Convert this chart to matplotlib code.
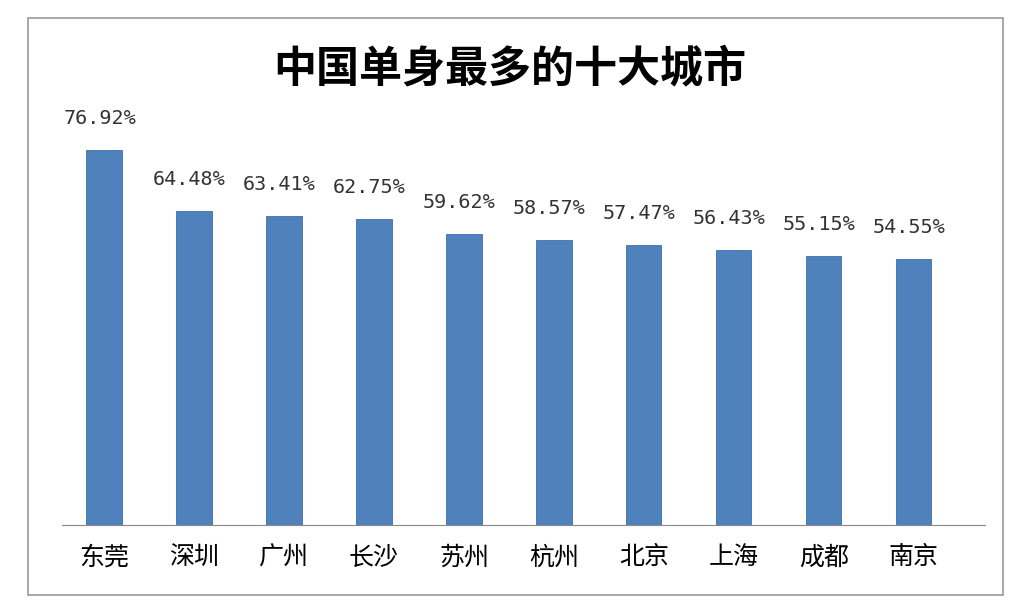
import matplotlib
matplotlib.use("Agg")
import matplotlib.pyplot as plt
from matplotlib.patches import Rectangle

plt.rcParams['font.family'] = ['Noto Sans CJK SC', 'DejaVu Sans']

cities = ["东莞", "深圳", "广州", "长沙", "苏州", "杭州", "北京", "上海", "成都", "南京"]
values = [76.92, 64.48, 63.41, 62.75, 59.62, 58.57, 57.47, 56.43, 55.15, 54.55]
title = "中国单身最多的十大城市"

fig = plt.figure(figsize=(10.2, 6.1), dpi=100)
fig.patches.append(Rectangle((28/1020, 15/610), 975/1020, 577/610, transform=fig.transFigure,
                             fill=False, edgecolor="#999999", linewidth=1.2))
ax = fig.add_axes([62/1020, 85/610, 923/1020, 465/610])
x = list(range(len(cities)))
ax.bar(x, values, width=0.39, color="#4F81BD", edgecolor="#3E6FA8", linewidth=0.6)
for xi, v in zip(x, values):
    ax.text(xi - 0.05, v + 4.5, f"{v:.2f}%", ha="center", va="bottom",
            fontsize=14.5, family=["DejaVu Sans Mono"], color="#333333")
ax.set_xlim(-0.467, 9.79)
ax.set_ylim(0, 95.4)
ax.set_yticks([])
ax.set_xticks(x)
ax.set_xticklabels(cities, fontsize=18)
ax.tick_params(axis="x", length=0, pad=14)
for s in ["top", "right", "left"]:
    ax.spines[s].set_visible(False)
ax.spines["bottom"].set_color("#888888")
fig.text(0.5, 542/610, title, ha="center", va="center", fontsize=31, fontweight="bold")
fig.savefig("out.png", dpi=100)
